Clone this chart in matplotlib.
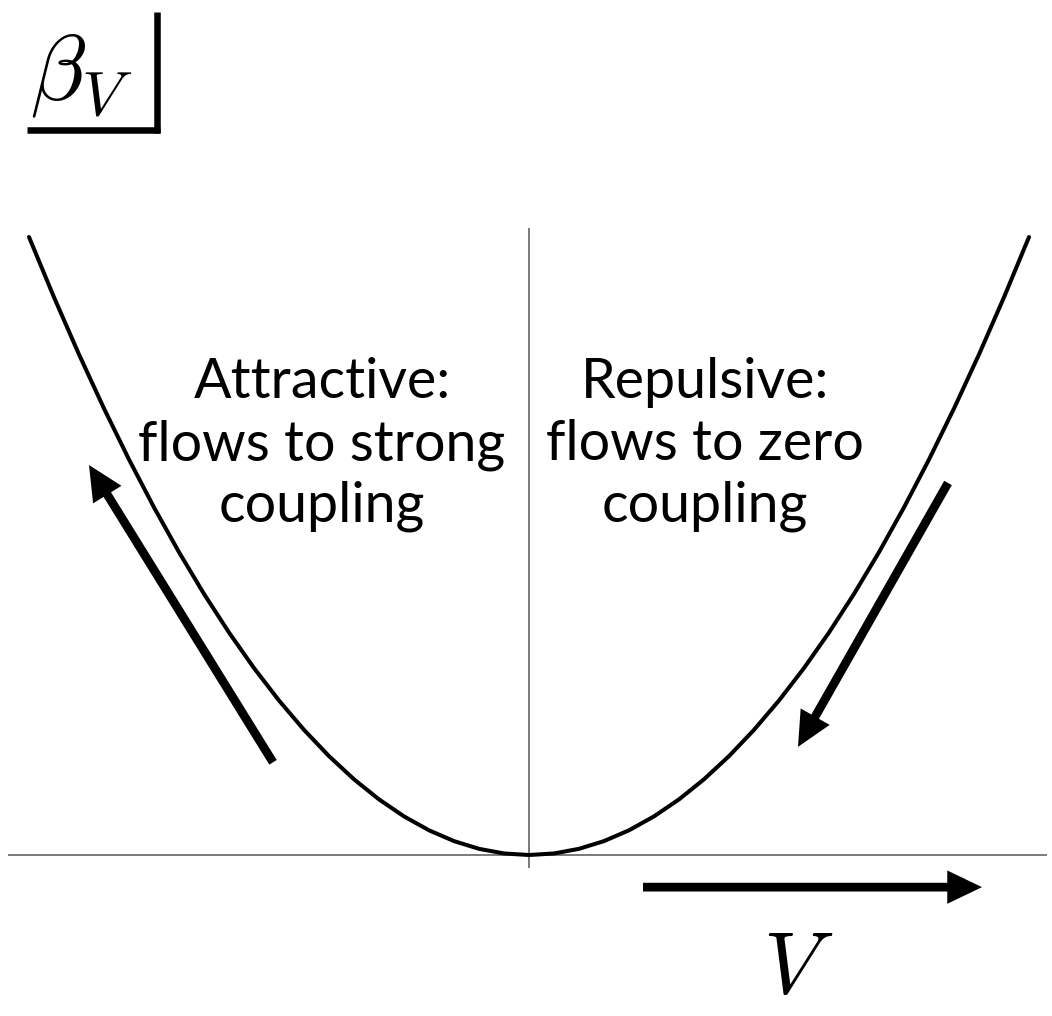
import matplotlib
matplotlib.use("Agg")
import matplotlib.pyplot as plt

plt.rcParams['mathtext.fontset'] = 'cm'

# Curve data: beta_V versus V
v_values = [-1.0, -0.95, -0.9, -0.85, -0.8, -0.75, -0.7, -0.65, -0.6, -0.55, -0.5, -0.45, -0.4, -0.35,
            -0.3, -0.25, -0.2, -0.15, -0.1, -0.05, 0.0,
            0.05, 0.1, 0.15, 0.2, 0.25, 0.3, 0.35, 0.4, 0.45, 0.5, 0.55, 0.6, 0.65, 0.7, 0.75,
            0.8, 0.85, 0.9, 0.95, 1.0]
beta_values = [1.0, 0.9025, 0.81, 0.7225, 0.64, 0.5625, 0.49, 0.4225, 0.36, 0.3025, 0.25, 0.2025, 0.16, 0.1225,
               0.09, 0.0625, 0.04, 0.0225, 0.01, 0.0025, 0.0,
               0.0025, 0.01, 0.0225, 0.04, 0.0625, 0.09, 0.1225, 0.16, 0.2025, 0.25, 0.3025, 0.36, 0.4225, 0.49, 0.5625,
               0.64, 0.7225, 0.81, 0.9025, 1.0]

left_lines = ["Attractive:", "flows to strong", "coupling"]
right_lines = ["Repulsive:", "flows to zero", "coupling"]

fig = plt.figure(figsize=(10.52, 10.16), dpi=100)
ax = fig.add_axes([0, 0, 1, 1])
ax.set_xlim(-1.058, 1.046)
ax.set_ylim(-0.2605, 1.3835)
ax.axis('off')

axis_color = '#7a7a7a'
# axes through origin
ax.plot([-1.042, 1.036], [0, 0], color=axis_color, lw=1.4, solid_capstyle='butt')
ax.plot([0, 0], [-0.021, 1.015], color=axis_color, lw=1.4, solid_capstyle='butt')

# curve
ax.plot(v_values, beta_values, color='black', lw=2.9, solid_capstyle='round', solid_joinstyle='round')

# flow arrows
def arrow(tail, tip):
    ax.annotate('', xy=tip, xytext=tail,
                arrowprops=dict(width=6.3, headwidth=24, headlength=25, shrink=0,
                                facecolor='black', edgecolor='black', lw=0))

arrow((-0.512, 0.150), (-0.880, 0.631))
arrow((0.838, 0.602), (0.538, 0.175))
arrow((0.228, -0.052), (0.906, -0.052))

# texts
font = 'Lato'
baselines = [0.7395, 0.639, 0.539]
for s, b in zip(left_lines, baselines):
    ax.text(-0.414, b, s, ha='center', va='baseline', fontsize=40, family=font)
for s, b in zip(right_lines, baselines):
    ax.text(0.352, b, s, ha='center', va='baseline', fontsize=40, family=font)

# beta_V label with corner box
ax.text(-0.998, 1.222, r'$\beta_V$', ha='left', va='baseline', fontsize=66)
ax.plot([-1.004, -0.738], [1.173, 1.173], color='black', lw=4.7, solid_capstyle='butt')
ax.plot([-0.744, -0.744], [1.168, 1.364], color='black', lw=4.7, solid_capstyle='butt')

# V label
ax.text(0.468, -0.223, r'$V$', ha='left', va='baseline', fontsize=64)

fig.savefig('out.png', dpi=100)
